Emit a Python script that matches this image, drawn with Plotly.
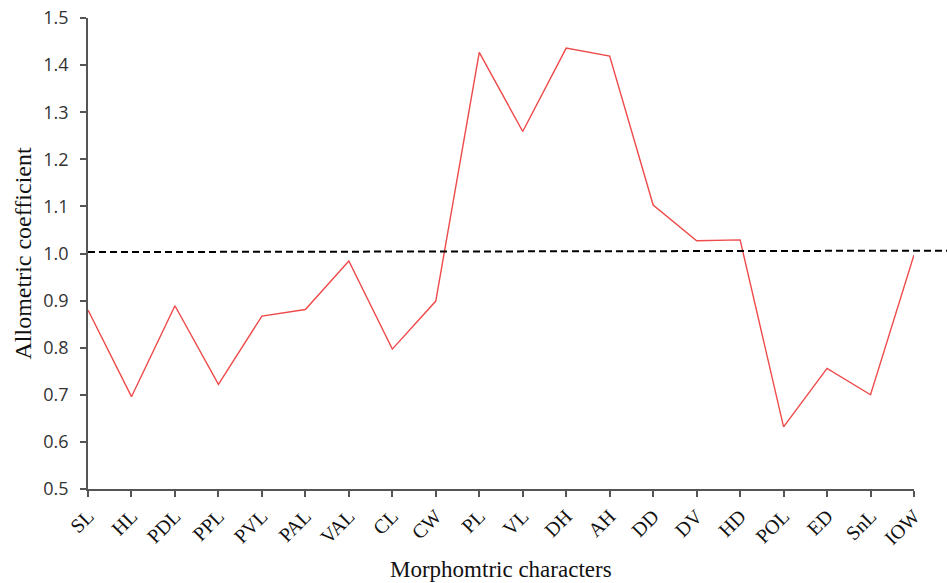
import plotly.graph_objects as go

categories = ["SL", "HL", "PDL", "PPL", "PVL", "PAL", "VAL", "CL", "CW", "PL",
              "VL", "DH", "AH", "DD", "DV", "HD", "POL", "ED", "SnL", "IOW"]
coefficients = [0.880, 0.696, 0.889, 0.722, 0.867, 0.881, 0.984, 0.797, 0.899, 1.427,
                1.259, 1.436, 1.419, 1.103, 1.027, 1.029, 0.632, 0.756, 0.700, 0.997]
reference_line = [1.003, 1.006]
y_ticks = [0.5, 0.6, 0.7, 0.8, 0.9, 1.0, 1.1, 1.2, 1.3, 1.4, 1.5]

FIG_W, FIG_H = 947, 583
L, R, T, B = 88, 33, 18, 94
plot_w = FIG_W - L - R
plot_h = FIG_H - T - B

fig = go.Figure()
fig.add_trace(go.Scatter(
    x=categories, y=coefficients, mode="lines",
    line=dict(color="#ef4a4a", width=1.4), showlegend=False,
))

fig.add_shape(
    type="line", xref="paper", yref="y",
    x0=0, x1=(plot_w + R) / plot_w,
    y0=reference_line[0], y1=reference_line[1],
    line=dict(color="black", width=2, dash="7px,4px"),
)

fig.add_annotation(
    text="Morphomtric characters", xref="paper", yref="paper",
    x=0.5, y=-80 / plot_h, xanchor="center", yanchor="middle", showarrow=False,
    font=dict(family="Liberation Serif", size=23, color="#111"),
)
fig.add_annotation(
    text="Allometric coefficient", xref="paper", yref="paper",
    x=-66 / plot_w, y=0.5, xanchor="center", yanchor="middle", showarrow=False,
    textangle=-90,
    font=dict(family="Liberation Serif", size=24, color="#111"),
)

fig.update_layout(
    width=FIG_W, height=FIG_H,
    margin=dict(l=L, r=R, t=T, b=B),
    paper_bgcolor="white", plot_bgcolor="white",
    xaxis=dict(
        automargin=False,
        range=[0, len(categories) - 1],
        tickangle=-45,
        tickfont=dict(family="Liberation Serif", size=20, color="#111"),
        showline=True, linecolor="#555", linewidth=1.5,
        ticks="outside", ticklen=6, tickcolor="#555", tickwidth=1.5,
        showgrid=False, zeroline=False, ticklabeloverflow="allow",
    ),
    yaxis=dict(
        automargin=False,
        range=[0.5, 1.5],
        tickvals=y_ticks,
        ticktext=[f"{v:.1f}" for v in y_ticks],
        tickfont=dict(family="Open Sans", size=18, color="#333"),
        showline=True, linecolor="#555", linewidth=1.5,
        ticks="outside", ticklen=6, tickcolor="#555", tickwidth=1.5,
        ticklabelstandoff=8,
        showgrid=False, zeroline=False, ticklabeloverflow="allow",
    ),
)

fig.write_html("out.html", config={"displayModeBar": False},
               post_script="document.body.style.margin='0';")
